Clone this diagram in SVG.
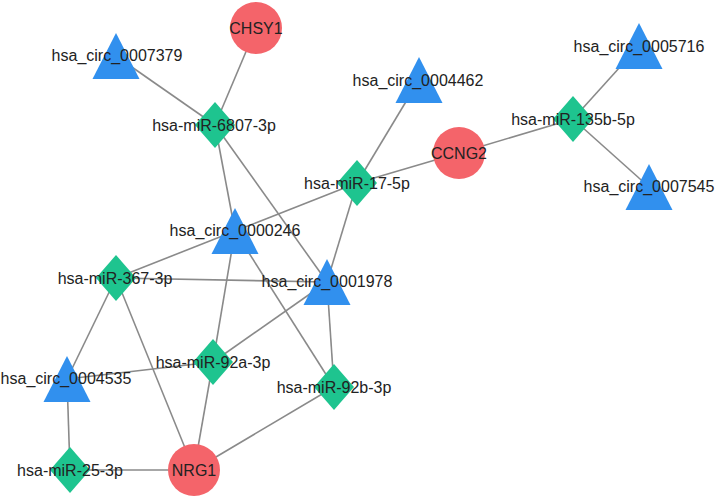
<svg xmlns="http://www.w3.org/2000/svg" width="716" height="500" viewBox="0 0 716 500">
<style>
.e{stroke:#8a8a8a;stroke-width:1.6;fill:none}
.c{fill:#f4646a}
.t{fill:#3190ee}
.d{fill:#1ec48f}
text{font-family:"Liberation Sans",Arial,sans-serif;font-size:16px;fill:#222;text-anchor:middle}
</style>
<defs>
<polygon id="tri" points="0,-23 23.5,23 -23.5,23"/>
<polygon id="dia" points="0,-23 20,0 0,23 -20,0"/>
</defs>
<rect width="716" height="500" fill="#fff"/>
<g id="edges">
<line class="e" x1="256" y1="28" x2="215" y2="125"/>
<line class="e" x1="116" y1="56" x2="215" y2="125"/>
<line class="e" x1="215" y1="125" x2="235" y2="231"/>
<line class="e" x1="215" y1="125" x2="327" y2="282"/>
<line class="e" x1="357" y1="183" x2="419" y2="80"/>
<line class="e" x1="357" y1="183" x2="459" y2="153"/>
<line class="e" x1="459" y1="153" x2="573" y2="119"/>
<line class="e" x1="573" y1="119" x2="639" y2="46"/>
<line class="e" x1="573" y1="119" x2="649" y2="187"/>
<line class="e" x1="357" y1="183" x2="235" y2="231"/>
<line class="e" x1="235" y1="231" x2="116" y2="278"/>
<line class="e" x1="357" y1="183" x2="327" y2="282"/>
<line class="e" x1="235" y1="231" x2="213" y2="362"/>
<line class="e" x1="235" y1="231" x2="334" y2="387"/>
<line class="e" x1="327" y1="282" x2="116" y2="278"/>
<line class="e" x1="327" y1="282" x2="213" y2="362"/>
<line class="e" x1="327" y1="282" x2="334" y2="387"/>
<line class="e" x1="116" y1="278" x2="67" y2="379"/>
<line class="e" x1="116" y1="278" x2="194" y2="470"/>
<line class="e" x1="213" y1="362" x2="67" y2="379"/>
<line class="e" x1="213" y1="362" x2="194" y2="470"/>
<line class="e" x1="67" y1="379" x2="70" y2="470"/>
<line class="e" x1="70" y1="470" x2="194" y2="470"/>
<line class="e" x1="334" y1="387" x2="194" y2="470"/>
</g>
<g id="n-CHSY1"><circle class="c" cx="256" cy="28" r="26"/><text x="256" y="34">CHSY1</text></g>
<g id="n-CCNG2"><circle class="c" cx="459" cy="153" r="26"/><text x="459" y="159">CCNG2</text></g>
<g id="n-NRG1"><circle class="c" cx="194" cy="470" r="26"/><text x="194" y="476">NRG1</text></g>
<g id="n-0007379"><use href="#tri" class="t" x="116" y="56"/><text x="117" y="61">hsa_circ_0007379</text></g>
<g id="n-0000246"><use href="#tri" class="t" x="235" y="231"/><text x="235" y="236">hsa_circ_0000246</text></g>
<g id="n-0001978"><use href="#tri" class="t" x="327" y="282"/><text x="327" y="287">hsa_circ_0001978</text></g>
<g id="n-0004462"><use href="#tri" class="t" x="419" y="80"/><text x="418" y="86">hsa_circ_0004462</text></g>
<g id="n-0005716"><use href="#tri" class="t" x="639" y="46"/><text x="639" y="52">hsa_circ_0005716</text></g>
<g id="n-0007545"><use href="#tri" class="t" x="649" y="187"/><text x="649" y="192">hsa_circ_0007545</text></g>
<g id="n-0004535"><use href="#tri" class="t" x="67" y="379"/><text x="66" y="384">hsa_circ_0004535</text></g>
<g id="n-miR-6807-3p"><use href="#dia" class="d" x="215" y="125"/><text x="214" y="131">hsa-miR-6807-3p</text></g>
<g id="n-miR-17-5p"><use href="#dia" class="d" x="357" y="183"/><text x="357" y="189">hsa-miR-17-5p</text></g>
<g id="n-miR-135b-5p"><use href="#dia" class="d" x="573" y="119"/><text x="573" y="125">hsa-miR-135b-5p</text></g>
<g id="n-miR-367-3p"><use href="#dia" class="d" x="116" y="278"/><text x="115" y="284">hsa-miR-367-3p</text></g>
<g id="n-miR-92a-3p"><use href="#dia" class="d" x="213" y="362"/><text x="213" y="368">hsa-miR-92a-3p</text></g>
<g id="n-miR-92b-3p"><use href="#dia" class="d" x="334" y="387"/><text x="334" y="393">hsa-miR-92b-3p</text></g>
<g id="n-miR-25-3p"><use href="#dia" class="d" x="70" y="470"/><text x="70" y="476">hsa-miR-25-3p</text></g>
</svg>
